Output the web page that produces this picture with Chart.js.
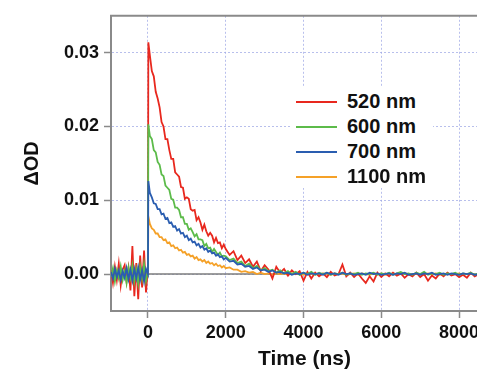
<!DOCTYPE html>
<html>
<head>
<meta charset="utf-8">
<script src="https://cdn.jsdelivr.net/npm/chart.js@4.4.1/dist/chart.umd.min.js"></script>
<style>
  body { margin: 0; background: #fff; overflow: hidden; }
  #wrap { position: relative; width: 477px; height: 372px; overflow: hidden; }
  #canvas { position: absolute; left: 0; top: 0; }
  #legend { position: absolute; left: 292px; top: 87px; width: 141px; height: 101px;
            background: #fff; padding-top: 2px; box-sizing: border-box;
            font: bold 20px "Liberation Sans", Arial, sans-serif; color: #111; }
  .row { position: relative; height: 25px; line-height: 25px; }
  .swatch { position: absolute; left: 4px; top: 12px; width: 41px; height: 2px; }
  .label { position: absolute; left: 55px; top: 0; white-space: nowrap; }
</style>
</head>
<body>
<div id="wrap">
  <canvas id="canvas" width="498" height="372"></canvas>
  <div id="legend"></div>
</div>
<script>
// time axis in ns, shared by all traces
var timeNs = [-950,-900,-850,-800,-750,-700,-650,-600,-550,-500,-450,-400,-350,-300,-250,-200,-150,-100,-50,0,
  10,50,100,150,200,250,300,350,400,450,500,550,600,650,700,750,800,850,900,950,1000,
  1050,1100,1150,1200,1250,1300,1350,1400,1450,1500,1550,1600,1650,1700,1750,1800,1850,1900,1950,2000,
  2100,2200,2300,2400,2500,2600,2700,2800,2900,3000,3100,3200,3300,3400,3500,3600,3700,3800,3900,4000,
  4100,4200,4300,4400,4500,4600,4700,4800,4900,5000,5100,5200,5300,5400,5500,5600,5700,5800,5900,6000,
  6100,6200,6300,6400,6500,6600,6700,6800,6900,7000,7100,7200,7300,7400,7500,7600,7700,7800,7900,8000,
  8100,8200,8300,8400,8500];

var od520 = [0.0005,-0.0012,0.0010,-0.0008,0.0014,-0.0015,0.0006,0.0012,-0.0010,0.0008,-0.0022,0.0038,-0.0030,0.0015,-0.0034,0.0025,-0.0018,0.0032,-0.0025,0.0010,
  0.0314,
  0.0296,0.0275,0.0268,0.0247,0.0238,0.0226,0.0206,0.0200,0.0183,0.0183,0.0168,0.0156,0.0156,0.0138,0.0135,0.0132,0.0118,0.0117,0.0102,0.0104,
  0.0102,0.0088,0.0086,0.0087,0.0073,0.0077,0.0070,0.0060,0.0067,0.0058,0.0052,0.0056,0.0052,0.0043,0.0049,0.0042,0.0043,0.0035,0.0040,0.0034,
  0.0026,0.0031,0.0019,0.0025,0.0015,0.0020,0.0010,0.0017,0.0004,0.0012,
  0.0006,-0.0006,0.0010,0.0002,0.0007,-0.0002,0.0005,0.0000,0.0004,-0.0009,
  0.0003,-0.0006,0.0002,-0.0003,0.0001,-0.0004,0.0003,-0.0002,0.0000,0.0013,
  -0.0003,0.0002,-0.0004,0.0001,-0.0006,-0.0012,-0.0003,-0.0010,0.0002,-0.0004,
  0.0001,-0.0003,0.0002,-0.0002,0.0001,-0.0005,0.0000,-0.0003,0.0002,-0.0004,
  0.0000,-0.0009,-0.0002,-0.0006,0.0001,-0.0003,0.0002,-0.0002,0.0000,-0.0004,
  -0.0001,-0.0005,0.0002,-0.0003,0.0000];

var od600 = [-0.0004,0.0008,-0.0010,0.0005,-0.0006,0.0010,-0.0008,0.0004,-0.0012,0.0009,-0.0005,0.0012,-0.0010,0.0006,-0.0013,0.0010,-0.0006,0.0014,-0.0009,0.0005,
  0.0203,
  0.0187,0.0183,0.0168,0.0165,0.0152,0.0148,0.0135,0.0133,0.0120,0.0117,0.0114,0.0102,0.0101,0.0090,0.0090,0.0087,0.0077,0.0077,0.0068,0.0068,
  0.0060,0.0062,0.0057,0.0051,0.0054,0.0047,0.0047,0.0046,0.0038,0.0041,0.0035,0.0036,0.0030,0.0034,0.0030,0.0026,0.0029,0.0024,0.0025,0.0024,
  0.0019,0.0021,0.0015,0.0017,0.0011,0.0014,0.0008,0.0011,0.0005,0.0008,
  0.0004,0.0006,0.0002,0.0005,0.0001,0.0004,0.0000,0.0003,-0.0001,0.0002,
  0.0000,0.0003,-0.0001,0.0002,0.0000,0.0002,-0.0001,0.0001,0.0000,0.0002,
  -0.0001,0.0001,0.0000,0.0002,-0.0001,0.0001,0.0000,0.0002,-0.0001,0.0001,
  0.0000,0.0002,-0.0001,0.0001,0.0003,0.0000,0.0001,-0.0001,0.0002,0.0000,
  0.0003,-0.0001,0.0001,0.0000,0.0002,-0.0001,0.0001,0.0000,0.0002,-0.0001,
  0.0001,0.0000,0.0002,-0.0001,0.0001];

var od700 = [0.0003,-0.0006,0.0007,-0.0004,0.0005,-0.0008,0.0004,-0.0005,0.0008,-0.0007,0.0006,-0.0009,0.0007,-0.0006,0.0009,-0.0008,0.0005,-0.0010,0.0007,0.0000,
  0.0126,
  0.0110,0.0104,0.0096,0.0095,0.0088,0.0088,0.0081,0.0082,0.0075,0.0076,0.0069,0.0070,0.0064,0.0065,0.0059,0.0061,0.0055,0.0056,0.0050,0.0052,
  0.0046,0.0048,0.0043,0.0044,0.0039,0.0041,0.0036,0.0038,0.0033,0.0035,0.0030,0.0032,0.0028,0.0029,0.0025,0.0027,0.0023,0.0024,0.0020,0.0022,
  0.0017,0.0018,0.0013,0.0014,0.0010,0.0011,0.0007,0.0009,0.0005,0.0006,
  0.0003,0.0005,0.0002,0.0003,0.0001,0.0002,-0.0001,0.0001,0.0000,0.0002,
  -0.0001,0.0001,0.0000,0.0001,-0.0001,0.0002,0.0000,0.0001,-0.0001,0.0002,
  0.0000,0.0001,-0.0001,0.0000,0.0001,-0.0001,0.0002,0.0000,0.0001,-0.0001,
  0.0000,0.0001,-0.0001,0.0001,0.0000,0.0002,-0.0001,0.0000,0.0001,-0.0001,
  0.0001,0.0000,0.0002,-0.0001,0.0000,0.0001,-0.0001,0.0001,0.0000,-0.0001,
  0.0001,0.0000,0.0001,-0.0001,0.0000];

var od1100 = [-0.0002,0.0004,-0.0005,0.0003,-0.0004,0.0005,-0.0003,0.0004,-0.0006,0.0003,-0.0004,0.0006,-0.0005,0.0004,-0.0006,0.0005,-0.0003,0.0006,-0.0004,0.0001,
  0.0078,
  0.0068,0.0062,0.0060,0.0055,0.0055,0.0050,0.0050,0.0046,0.0047,0.0042,0.0043,0.0038,0.0039,0.0035,0.0036,0.0032,0.0033,0.0029,0.0030,0.0026,
  0.0027,0.0024,0.0025,0.0021,0.0023,0.0019,0.0020,0.0017,0.0019,0.0015,0.0017,0.0014,0.0015,0.0012,0.0014,0.0011,0.0012,0.0009,0.0011,0.0008,
  0.0009,0.0006,0.0006,0.0003,0.0004,0.0002,0.0003,0.0000,0.0002,0.0000,
  0.0001,-0.0001,0.0001,0.0000,0.0001,-0.0001,0.0001,0.0000,0.0002,-0.0001,
  0.0001,0.0000,0.0001,-0.0001,0.0000,0.0001,-0.0001,0.0001,0.0000,0.0001,
  -0.0001,0.0000,0.0001,-0.0001,0.0001,0.0000,-0.0001,0.0001,0.0000,0.0001,
  -0.0001,0.0000,0.0001,-0.0001,0.0000,0.0001,0.0000,-0.0001,0.0001,0.0000,
  -0.0001,0.0001,0.0000,0.0001,-0.0001,0.0000,0.0001,-0.0001,0.0000,0.0001,
  -0.0001,0.0000,0.0001,-0.0001,0.0000];

var seriesNames = ['520 nm', '600 nm', '700 nm', '1100 nm'];
var seriesColors = ['#e8281e', '#5cbb4a', '#2a5db0', '#f5a128'];
var xTicks = [0, 2000, 4000, 6000, 8000];
var yTicks = [0, 0.01, 0.02, 0.03];

var FONT = '"Liberation Sans", Arial, sans-serif';
var AXIS_GRAY = '#8a8a8a';
var GRID_BLUE = 'rgba(160,170,230,0.75)';

function toPoints(values){
    return values.map(function(v, i){ return {x: timeNs[i], y: v}; });
}

// zero line and the top frame edge
var framePlugin = {
    id: 'frameLines',
    beforeDatasetsDraw: function(chart){
        var ctx = chart.ctx;
        var area = chart.chartArea;
        var y0 = chart.scales.y.getPixelForValue(0);
        ctx.save();
        ctx.strokeStyle = '#7d7d7d';
        ctx.lineWidth = 1.5;
        ctx.beginPath();
        ctx.moveTo(area.left, y0);
        ctx.lineTo(area.right, y0);
        ctx.stroke();
        ctx.strokeStyle = AXIS_GRAY;
        ctx.lineWidth = 2;
        ctx.beginPath();
        ctx.moveTo(area.left - 1, area.top);
        ctx.lineTo(area.right, area.top);
        ctx.stroke();
        ctx.restore();
    }
};

function buildLegend(){
    var legend = document.getElementById('legend');
    var html = '';
    seriesNames.forEach(function(name, i){
        html += '<div class="row"><span class="swatch" style="background:' + seriesColors[i] + '"></span>';
        html += '<span class="label">' + name + '</span></div>';
    });
    legend.innerHTML = html;
}

function drawChart(){
    var traces = [od520, od600, od700, od1100];
    var datasets = traces.map(function(values, i){
        return {
            label: seriesNames[i],
            data: toPoints(values),
            borderColor: seriesColors[i],
            borderWidth: 1.8,
            pointRadius: 0,
            tension: 0,
            fill: false,
            // first dataset is drawn on top in Chart.js; keep blue above, orange below
            order: [2, 1, 0, 3][i]
        };
    });

    var ctx = document.getElementById('canvas').getContext('2d');
    new Chart(ctx, {
        type: 'line',
        data: { datasets: datasets },
        plugins: [framePlugin],
        options: {
            responsive: false,
            animation: false,
            layout: { padding: { top: 12, left: 0, right: 0, bottom: 0 } },
            plugins: { legend: { display: false }, tooltip: { enabled: false } },
            scales: {
                x: {
                    type: 'linear',
                    min: -950,
                    max: 9000,
                    afterBuildTicks: function(scale){
                        scale.ticks = xTicks.map(function(v){ return {value: v}; });
                    },
                    afterFit: function(scale){
                        scale.height = 61;
                        scale.paddingLeft = 0;
                        scale.paddingRight = 0;
                    },
                    ticks: {
                        color: '#111',
                        padding: 4,
                        maxRotation: 0,
                        font: { family: FONT, size: 18, weight: 'bold' },
                        callback: function(v){ return String(v); }
                    },
                    grid: {
                        color: GRID_BLUE,
                        lineWidth: 1,
                        tickColor: AXIS_GRAY,
                        tickLength: 7,
                        tickWidth: 1.5
                    },
                    border: { color: AXIS_GRAY, width: 2, dash: [2, 2] },
                    title: {
                        display: true,
                        text: 'Time (ns)',
                        color: '#111',
                        padding: { top: 0, bottom: 0 },
                        font: { family: FONT, size: 21, weight: 'bold' }
                    }
                },
                y: {
                    min: -0.005,
                    max: 0.035,
                    afterBuildTicks: function(scale){
                        scale.ticks = yTicks.map(function(v){ return {value: v}; });
                    },
                    afterFit: function(scale){
                        scale.width = 111;
                    },
                    ticks: {
                        color: '#111',
                        padding: 5,
                        font: { family: FONT, size: 18, weight: 'bold' },
                        callback: function(v){ return v.toFixed(2); }
                    },
                    grid: {
                        color: GRID_BLUE,
                        lineWidth: 1,
                        tickColor: AXIS_GRAY,
                        tickLength: 7,
                        tickWidth: 1.5
                    },
                    border: { color: AXIS_GRAY, width: 2, dash: [2, 2] },
                    title: {
                        display: true,
                        text: 'ΔOD',
                        color: '#111',
                        padding: { top: 20, bottom: 0 },
                        font: { family: FONT, size: 20, weight: 'bold' }
                    }
                }
            }
        }
    });
}

buildLegend();
drawChart();
</script>
</body>
</html>
